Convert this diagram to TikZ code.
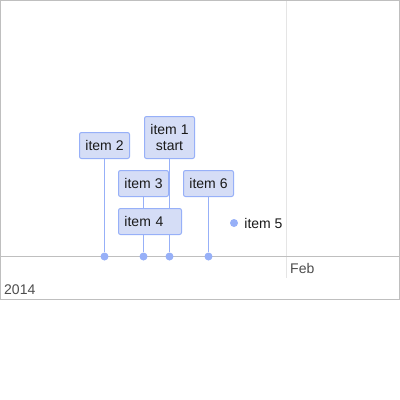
\documentclass[tikz,border=0pt]{standalone}
\usepackage{fontspec}
\setmainfont{Liberation Sans}
\usepackage{tikz}
\usetikzlibrary{positioning, backgrounds}
\definecolor{itemfill}{HTML}{D5DDF6}
\definecolor{itemline}{HTML}{97B0F8}
\definecolor{axisline}{HTML}{BFBFBF}
\definecolor{gridline}{HTML}{E5E5E5}
\definecolor{axistext}{HTML}{4D4D4D}
\definecolor{itemtext}{HTML}{1A1A1A}

\begin{document}
\begin{tikzpicture}
	[x=1pt, y=-1pt, font=\fontsize{14}{16}\selectfont,
	 item/.style={draw=itemline, fill=itemfill, text=itemtext, line width=1pt, rounded corners=2pt, inner sep=0pt, minimum width=50pt, minimum height=26pt, align=center},
	 dot/.style={circle, fill=itemline, inner sep=0pt, minimum size=8pt},
	 stem/.style={draw=itemline, line width=1pt},
	 axislabel/.style={text=axistext, anchor=west, inner sep=0pt}]
   \useasboundingbox (0,0) rectangle (400,400);
   \node[item] (item_2) at (104.5,145.5) {item 2};
   \node[item, minimum height=42pt] (item_1) at (169.5,137.5) {item 1\\start};
   \node[item] (item_3) at (143.5,183.5) {item 3};
   \node[item] (item_6) at (208.5,183.5) {item 6};
   \node[item, text width=51pt, inner xsep=6pt, align=left] (item_4) at (150,221.5) {item 4};
   \node[dot] (dot_2) at (104.5,256.5) {};
   \node[dot] (dot_3) at (143.5,256.5) {};
   \node[dot] (dot_1) at (169.5,256.5) {};
   \node[dot] (dot_6) at (208.5,256.5) {};
   \node[dot] (dot_5) at (234,223) {};
   \node[text=itemtext, inner sep=0pt] (item_5) [right=6pt of dot_5] {item 5};

   \begin{pgfonlayer}{background}
   \fill[white] (0,0) rectangle (400,400);
   \draw[gridline, line width=1pt] (286.5,0) -- (286.5,278);
   \draw[axisline, line width=1pt] (0,256.5) -- (400,256.5);
   \draw[axisline, line width=1pt] (0.5,0.5) rectangle (399.5,299.5);
   \node[axislabel] (feb) at (290,268) {Feb};
   \node[axislabel] (year) at (4,290) {2014};
    \path[stem] 
    (item_2) edge (dot_2)
    (item_3) edge (dot_3)
    (item_1) edge (dot_1)
    (item_6) edge (dot_6);
   \end{pgfonlayer}
\end{tikzpicture}
\end{document}
